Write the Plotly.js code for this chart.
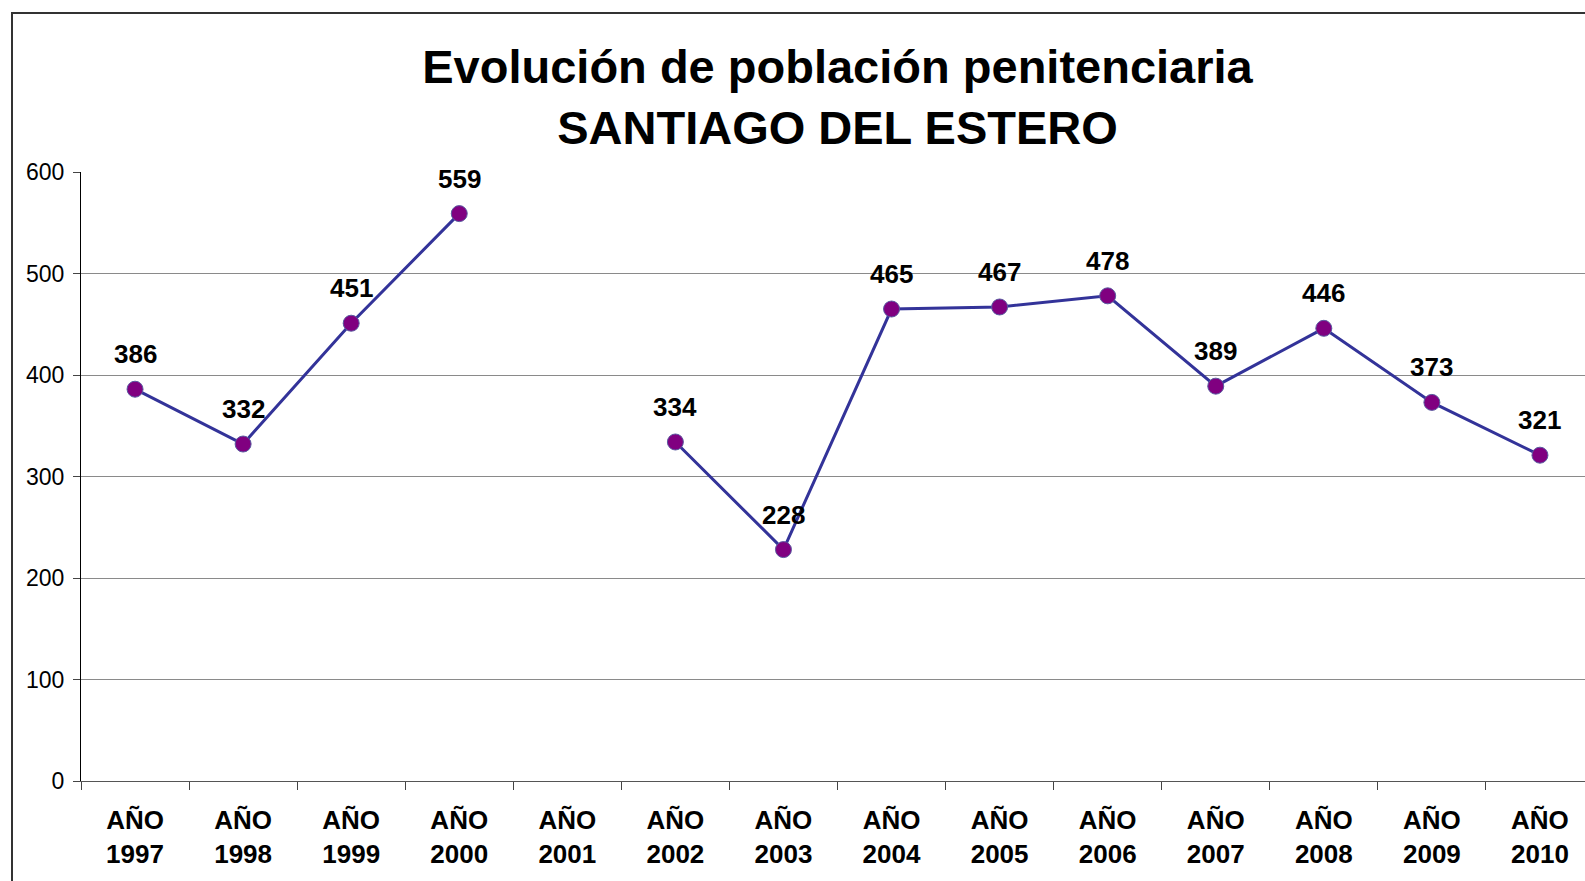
<!DOCTYPE html>
<html>
<head>
<meta charset="utf-8">
<script src="https://cdn.plot.ly/plotly-3.0.1.min.js"></script>
<style>
html,body{margin:0;padding:0;overflow:hidden;background:#fff;}
#chart{position:absolute;left:0;top:0;width:1610px;height:881px;}
#frame{position:absolute;left:11px;top:12px;width:1700px;height:1000px;border:2px solid #333;pointer-events:none;box-sizing:border-box;}
</style>
</head>
<body>
<div id="chart"></div>
<div id="frame"></div>
<script>
var categories = ["AÑO<br>1997","AÑO<br>1998","AÑO<br>1999","AÑO<br>2000","AÑO<br>2001","AÑO<br>2002","AÑO<br>2003","AÑO<br>2004","AÑO<br>2005","AÑO<br>2006","AÑO<br>2007","AÑO<br>2008","AÑO<br>2009","AÑO<br>2010"];
var poblacion = [386, 332, 451, 559, null, 334, 228, 465, 467, 478, 389, 446, 373, 321];
var yTicks = [0, 100, 200, 300, 400, 500, 600];

var font = "Arial, 'Liberation Sans', sans-serif";

var trace = {
  type: "scatter",
  mode: "lines+markers",
  x: categories,
  y: poblacion,
  connectgaps: false,
  line: {color: "#333399", width: 3},
  marker: {color: "#800080", size: 16, line: {color: "#5a5aa0", width: 1}},
  cliponaxis: false,
  hoverinfo: "x+y"
};

var annotations = [];
categories.forEach(function(c, i){
  var v = poblacion[i];
  if (v === null) return;
  annotations.push({
    x: c, y: v, xref: "x", yref: "y",
    text: "<b>" + v + "</b>",
    showarrow: false,
    xanchor: "center", yanchor: "bottom",
    yshift: 18,
    font: {family: font, size: 26, color: "#000"}
  });
});

var layout = {
  width: 1610,
  height: 881,
  margin: {l: 81, r: 16, t: 172, b: 100},
  paper_bgcolor: "#fff",
  plot_bgcolor: "#fff",
  showlegend: false,
  font: {family: font, color: "#000"},
  title: {
    text: "<b>Evolución de población penitenciaria<br>SANTIAGO DEL ESTERO</b>",
    font: {family: font, size: 47, color: "#000"},
    x: 0.5, xref: "paper", xanchor: "center",
    y: 1 - 83/881, yref: "container", yanchor: "middle"
  },
  annotations: annotations,
  xaxis: {
    type: "category",
    categoryorder: "array",
    categoryarray: categories,
    tickson: "boundaries",
    ticks: "outside",
    ticklen: 8,
    tickcolor: "#444",
    tickwidth: 1,
    showline: true,
    linecolor: "#555",
    linewidth: 1,
    showgrid: false,
    zeroline: false,
    ticklabelstandoff: 16,
    tickfont: {family: font, size: 26, color: "#000", weight: "bold"},
    range: [-0.5, 13.5]
  },
  yaxis: {
    range: [0, 600],
    tickvals: yTicks,
    ticktext: yTicks.map(String),
    ticks: "outside",
    ticklen: 7,
    tickcolor: "#444",
    showline: true,
    linecolor: "#000",
    linewidth: 1,
    showgrid: true,
    gridcolor: "#8a8a8a",
    gridwidth: 1,
    zeroline: false,
    ticklabelstandoff: 4,
    tickfont: {family: font, size: 23, color: "#000"}
  }
};

Plotly.newPlot("chart", [trace], layout, {displayModeBar: false, staticPlot: true});
</script>
</body>
</html>
